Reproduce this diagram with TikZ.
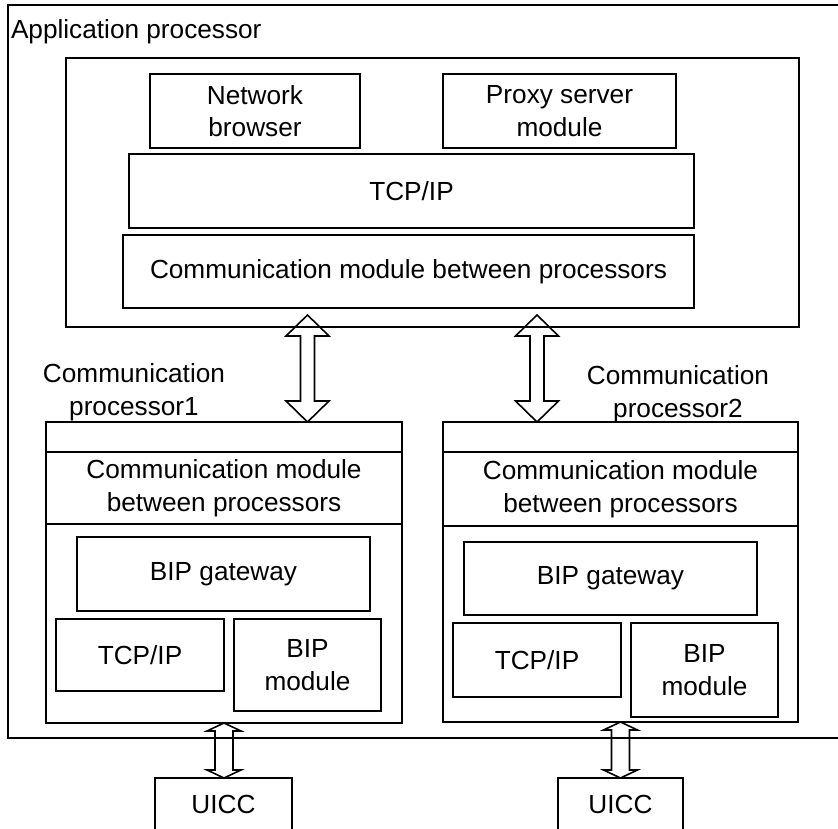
\documentclass[tikz,border=0pt]{standalone}
\usepackage{fontspec}
\setmainfont{Liberation Sans}
\usetikzlibrary{calc}
\begin{document}
\begin{tikzpicture}[x=1pt,y=-1pt,
  txt/.style={inner sep=0pt, outer sep=0pt, align=center,
    font=\fontsize{26.2}{32.5}\selectfont},
  box/.style={txt, draw, line width=1.7pt},
  arrowline/.style={draw, line width=1.6pt, line join=miter},
]
\useasboundingbox (0,0) rectangle (838,829);

% two-headed block arrow between a top tip and a bottom tip
% #1 top tip, #2 bottom tip, #3 half head width, #4 half shaft width, #5 head length
\newcommand\dblockarrow[5]{%
  \draw[arrowline] let \p1=(#1), \p2=(#2) in
    (\x1,\y1) -- (\x1+#3,\y1-#5) -- (\x1+#4,\y1-#5) -- (\x1+#4,\y2+#5)
    -- (\x1+#3,\y2+#5) -- (\x1,\y2) -- (\x1-#3,\y2+#5) -- (\x1-#4,\y2+#5)
    -- (\x1-#4,\y1-#5) -- (\x1-#3,\y1-#5) -- cycle;}

% application processor
\node[box, minimum width=837pt, minimum height=733pt] (outer) at (426.5,371.5) {};
\node[txt, anchor=west] (aplabel) at (11,32) {Application processor};
\node[box, minimum width=733pt, minimum height=269pt] (app) at (432.5,192.5) {};
\node[box, minimum width=210pt, minimum height=74pt] (nb) at (255,111) {Network\\browser};
\node[box, minimum width=233pt, minimum height=74pt] (proxy) at (559.5,111) {Proxy server\\module};
\node[box, minimum width=565pt, minimum height=74pt] (tcp) at (411.5,191) {TCP/IP};
\node[box, minimum width=571pt, minimum height=73pt] (cm) at (408.5,271.5) {Communication module between processors};

% communication processor 1
\node[txt] (cp1label) at (134,392) {Communication\\processor1};
\node[box, minimum width=356pt, minimum height=301pt] (cp1) at (224,572.5) {};
\draw[line width=1.7pt] (cp1.west |- 0,452) -- (cp1.east |- 0,452);
\draw[line width=1.7pt] (cp1.west |- 0,524) -- (cp1.east |- 0,524);
\node[txt] (cm1) at (224,488) {Communication module\\between processors};
\node[box, minimum width=293pt, minimum height=74pt] (gw1) at (223.5,574) {BIP gateway};
\node[box, minimum width=168pt, minimum height=72pt] (tcp1) at (140,655) {TCP/IP};
\node[box, minimum width=147pt, minimum height=92pt] (bip1) at (307.5,665) {BIP\\module};

% communication processor 2
\node[txt] (cp2label) at (678,394) {Communication\\processor2};
\node[box, minimum width=355pt, minimum height=300pt] (cp2) at (620.5,572) {};
\draw[line width=1.7pt] (cp2.west |- 0,452) -- (cp2.east |- 0,452);
\draw[line width=1.7pt] (cp2.west |- 0,526) -- (cp2.east |- 0,526);
\node[txt] (cm2) at (620.5,489) {Communication module\\between processors};
\node[box, minimum width=293pt, minimum height=73pt] (gw2) at (610.5,578.5) {BIP gateway};
\node[box, minimum width=168pt, minimum height=74pt] (tcp2) at (537,660) {TCP/IP};
\node[box, minimum width=147pt, minimum height=94pt] (bip2) at (704.5,670) {BIP\\module};

% UICC cards
\node[box, minimum width=137pt, minimum height=52pt] (uicc1) at (223.5,804) {UICC};
\node[box, minimum width=125pt, minimum height=52pt] (uicc2) at (620.5,804) {UICC};

% links between processors
\coordinate (up1) at (307.5,315);
\coordinate (up2) at (537,315);
\dblockarrow{up1}{cp1.north -| up1}{21.5pt}{7pt}{21pt}
\dblockarrow{up2}{cp2.north -| up2}{21.5pt}{7pt}{21pt}

% links to the cards
\dblockarrow{cp1.south}{uicc1.north -| cp1.south}{17pt}{9pt}{8pt}
\dblockarrow{cp2.south}{uicc2.north -| cp2.south}{17pt}{9pt}{8pt}
\end{tikzpicture}
\end{document}
